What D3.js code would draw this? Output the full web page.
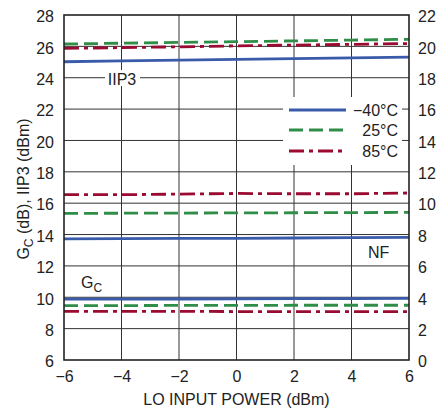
<!DOCTYPE html>
<html><head><meta charset="utf-8">
<script src="https://cdn.jsdelivr.net/npm/d3@7"></script>
<style>
body{margin:0;background:#fff;}
text{font-family:"Liberation Sans",Arial,sans-serif;fill:#222;}
</style></head>
<body>
<svg id="c" width="439" height="417"></svg>
<script>
const xVals = [-6, -4, -2, 0, 2, 4, 6];
const xTicks = [-6, -4, -2, 0, 2, 4, 6];
const leftTicks = [6, 8, 10, 12, 14, 16, 18, 20, 22, 24, 26, 28];
const rightTicks = [0, 2, 4, 6, 8, 10, 12, 14, 16, 18, 20, 22];
const seriesNames = ["\u221240\u00B0C", "25\u00B0C", "85\u00B0C"];
// IIP3 (dBm), left axis
const iip3_m40 = [25.02, 25.07, 25.12, 25.17, 25.22, 25.27, 25.32];
const iip3_25  = [26.15, 26.20, 26.25, 26.30, 26.35, 26.40, 26.45];
const iip3_85  = [25.87, 25.92, 25.97, 26.03, 26.08, 26.13, 26.18];
// NF (dB), right axis
const nf_m40 = [7.73, 7.74, 7.75, 7.76, 7.78, 7.80, 7.82];
const nf_25  = [9.35, 9.36, 9.37, 9.38, 9.39, 9.40, 9.41];
const nf_85  = [10.55, 10.54, 10.58, 10.62, 10.60, 10.60, 10.65];
// Gc (dB), left axis
const gc_m40 = [9.88, 9.88, 9.89, 9.90, 9.91, 9.92, 9.93];
const gc_25  = [9.47, 9.47, 9.48, 9.48, 9.49, 9.49, 9.49];
const gc_85  = [9.10, 9.10, 9.10, 9.09, 9.09, 9.08, 9.08];

const colors = ["#3a5ba9", "#2f8d47", "#9b0a31"];
const dashes = [null, "14,6", "15,5,4,5"];

const L = 64, R = 409, T = 15, B = 360;
const svg = d3.select("#c");
const x = d3.scaleLinear().domain([-6, 6]).range([L, R]);
const yL = d3.scaleLinear().domain([6, 28]).range([B, T]);
const yR = d3.scaleLinear().domain([0, 22]).range([B, T]);

// grid
const grid = svg.append("g").attr("stroke", "#333").attr("stroke-width", 1);
xTicks.slice(1, -1).forEach(v => grid.append("line")
  .attr("x1", x(v)).attr("x2", x(v)).attr("y1", T).attr("y2", B));
leftTicks.slice(1, -1).forEach(v => grid.append("line")
  .attr("x1", L).attr("x2", R).attr("y1", yL(v)).attr("y2", yL(v)));

// label backgrounds (break grid)
svg.append("rect").attr("x", 105).attr("y", 70).attr("width", 35).attr("height", 16).attr("fill", "#fff");
svg.append("rect").attr("x", 283).attr("y", 97).attr("width", 119).attr("height", 68).attr("fill", "#fff");

// axes (labels only, via d3 axes)
const axL = d3.axisLeft(yL).tickValues(leftTicks).tickSize(0).tickPadding(10).tickFormat(d3.format("d"));
const gL = svg.append("g").attr("transform", `translate(${L},0)`).call(axL);
const axR = d3.axisRight(yR).tickValues(rightTicks).tickSize(0).tickPadding(9).tickFormat(d3.format("d"));
const gR = svg.append("g").attr("transform", `translate(${R},0)`).call(axR);
const axB = d3.axisBottom(x).tickValues(xTicks).tickSize(0).tickPadding(11).tickFormat(d3.format("d"));
const gB = svg.append("g").attr("transform", `translate(0,${B})`).call(axB);
[gL, gR, gB].forEach(g => {
  g.select(".domain").remove();
  g.selectAll("text").attr("font-size", 16).attr("font-family", "Liberation Sans, Arial, sans-serif").attr("fill", "#222");
});
gL.selectAll("text").attr("dy", "0.42em");
gR.selectAll("text").attr("dy", "0.42em");

// data lines
const lineL = d3.line().x((d, i) => x(xVals[i])).y(d => yL(d));
const lineR = d3.line().x((d, i) => x(xVals[i])).y(d => yR(d));
const groups = [
  [iip3_m40, iip3_25, iip3_85, lineL],
  [nf_m40, nf_25, nf_85, lineR],
  [gc_m40, gc_25, gc_85, lineL]
];
groups.forEach(gp => {
  for (let k = 2; k >= 0; k--) {
    svg.append("path").datum(gp[k]).attr("d", gp[3])
      .attr("fill", "none").attr("stroke", colors[k]).attr("stroke-width", 2.8)
      .attr("stroke-dasharray", dashes[k]);
  }
});

// frame
svg.append("rect").attr("x", L).attr("y", T).attr("width", R - L).attr("height", B - T)
  .attr("fill", "none").attr("stroke", "#222").attr("stroke-width", 1.6);

// legend
const legY = [110, 130, 151];
seriesNames.forEach((n, k) => {
  svg.append("line").attr("x1", 289).attr("x2", 346).attr("y1", legY[k]).attr("y2", legY[k])
    .attr("stroke", colors[k]).attr("stroke-width", 2.8).attr("stroke-dasharray", dashes[k]);
  svg.append("text").attr("x", 398).attr("y", legY[k] + 6).attr("text-anchor", "end")
    .attr("font-size", 16).text(n);
});

// curve labels
svg.append("text").attr("x", 122).attr("y", 85).attr("text-anchor", "middle").attr("font-size", 16).text("IIP3");
svg.append("text").attr("x", 368).attr("y", 258).attr("font-size", 16).text("NF");
const gc = svg.append("text").attr("x", 81).attr("y", 288).attr("font-size", 16);
gc.append("tspan").text("G");
gc.append("tspan").attr("font-size", 12).attr("dy", 4).text("C");

// axis titles
svg.append("text").attr("x", (L + R) / 2).attr("y", 405).attr("text-anchor", "middle")
  .attr("font-size", 16).text("LO INPUT POWER (dBm)");
const yt = svg.append("text").attr("transform", "translate(29,189) rotate(-90)")
  .attr("text-anchor", "middle").attr("font-size", 16);
yt.append("tspan").text("G");
yt.append("tspan").attr("font-size", 12).attr("dy", 4).text("C");
yt.append("tspan").attr("dy", -4).text(" (dB), IIP3 (dBm)");
</script>
</body></html>
